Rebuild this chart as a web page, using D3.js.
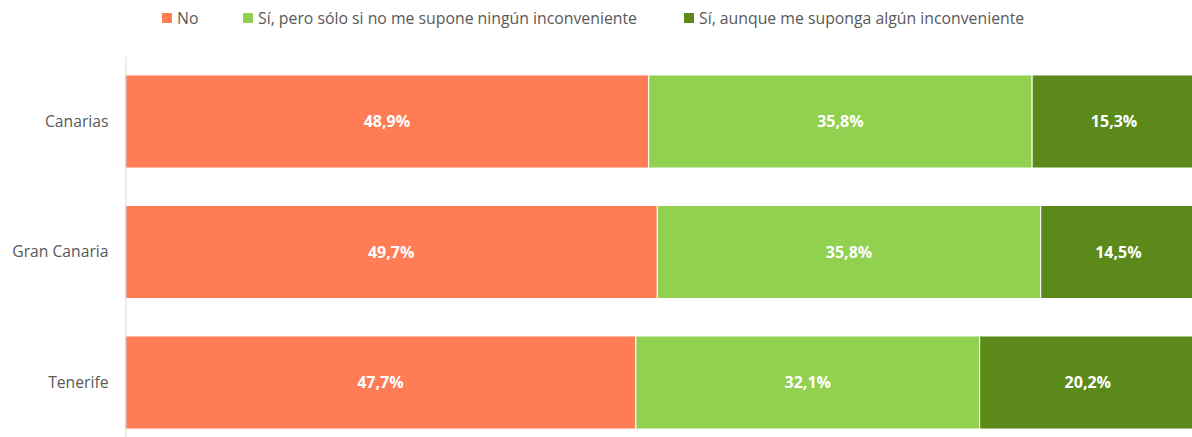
<!DOCTYPE html>
<html>
<head>
<meta charset="utf-8">
<script src="https://cdn.jsdelivr.net/npm/d3@7"></script>
<style>
  body { margin: 0; background: #fff; }
  svg text { font-family: "Open Sans", "Noto Sans", sans-serif; }
</style>
</head>
<body>
<svg id="chart" width="1192" height="437"></svg>
<script>
const width = 1192;
const height = 437;

const categories = ["Canarias", "Gran Canaria", "Tenerife"];
const seriesNames = ["No", "Sí, pero sólo si no me supone ningún inconveniente", "Sí, aunque me suponga algún inconveniente"];
const noValues = [48.9, 49.7, 47.7];
const siPeroValues = [35.8, 35.8, 32.1];
const siAunqueValues = [15.3, 14.5, 20.2];
const colors = ["#ff7c55", "#92d050", "#5b8a1a"];

const svg = d3.select("#chart");

const rows = categories.map((c, i) => ({
  cat: c,
  [seriesNames[0]]: noValues[i],
  [seriesNames[1]]: siPeroValues[i],
  [seriesNames[2]]: siAunqueValues[i]
}));

const stacked = d3.stack().keys(seriesNames)(rows);

const xScale = d3.scaleLinear()
  .domain([0, 100])
  .range([125, 1196]);

const yScale = d3.scaleBand()
  .domain(categories)
  .range([56.25, 447.75])
  .paddingInner(0.287)
  .paddingOuter(0.1435);

const color = d3.scaleOrdinal().domain(seriesNames).range(colors);

// Bars
const groups = svg.selectAll(".series")
  .data(stacked)
  .enter()
  .append("g")
  .attr("class", "series")
  .attr("fill", d => color(d.key));

groups.selectAll("rect")
  .data(d => d)
  .enter()
  .append("rect")
  .attr("x", d => xScale(d[0]))
  .attr("y", d => yScale(d.data.cat))
  .attr("width", d => xScale(d[1]) - xScale(d[0]))
  .attr("height", yScale.bandwidth())
  .attr("stroke", "#fff")
  .attr("stroke-width", 1);

// Value labels
groups.selectAll("text")
  .data(d => d)
  .enter()
  .append("text")
  .attr("x", d => (xScale(d[0]) + xScale(d[1])) / 2)
  .attr("y", d => yScale(d.data.cat) + yScale.bandwidth() / 2)
  .attr("text-anchor", "middle")
  .attr("dy", "0.35em")
  .attr("fill", "#fff")
  .attr("font-weight", "bold")
  .attr("font-size", "16px")
  .text(d => (d[1] - d[0]).toFixed(1).replace(".", ",") + "%");

// Axis
const yAxis = d3.axisLeft(yScale).tickSize(0).tickPadding(17);
const axisG = svg.append("g")
  .attr("transform", "translate(125.5, 0)")
  .call(yAxis);
axisG.select(".domain").attr("stroke", "#d9d9d9").attr("stroke-width", 1);
axisG.selectAll("text")
  .attr("font-size", "15.7px")
  .attr("fill", "#595959")
  .style("font-family", "'Open Sans', 'Noto Sans', sans-serif");

// Legend
const legendX = [162, 243, 684];
const legend = svg.append("g");
seriesNames.forEach((name, i) => {
  legend.append("rect")
    .attr("x", legendX[i])
    .attr("y", 13)
    .attr("width", 10)
    .attr("height", 10)
    .attr("fill", colors[i]);
  legend.append("text")
    .attr("x", legendX[i] + 15)
    .attr("y", 18)
    .attr("dy", "0.35em")
    .attr("font-size", "15.8px")
    .attr("fill", "#595959")
    .text(name);
});
</script>
</body>
</html>
